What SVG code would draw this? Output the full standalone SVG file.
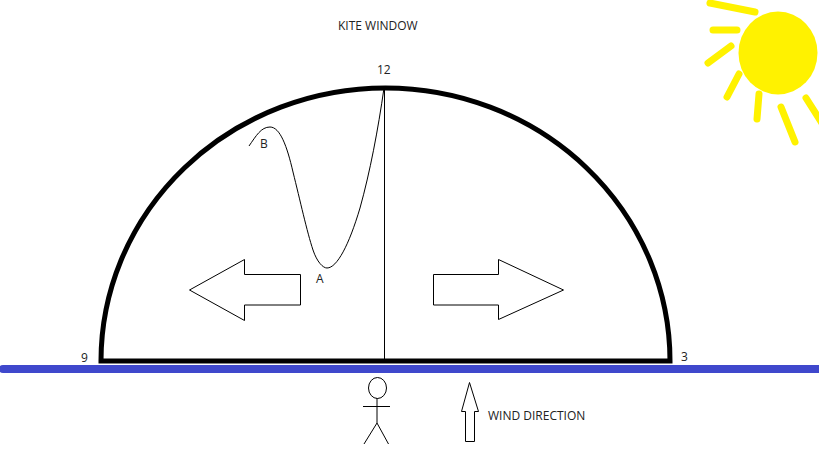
<svg xmlns="http://www.w3.org/2000/svg" width="819" height="460" viewBox="0 0 819 460">
  <style>
    text { font-family: "Open Sans", "Liberation Sans", Tahoma, sans-serif; font-size: 12px; fill: #222; }
    .thin { fill: none; stroke: #000; stroke-width: 1; }
    .ray { fill: none; stroke: #FFF200; stroke-width: 7; stroke-linecap: round; }
  </style>
  <rect width="819" height="460" fill="#fff"/>

  <g id="sun">
    <ellipse cx="778" cy="53" rx="39.500" ry="41.500" fill="#FFF200"/>
    <path class="ray" d="M710 3L755 12M713 30H737M708 63L731 46M727 97L739 74M757 119L759 94M781 107L795 142M806 98L825 128"/>
  </g>

  <g id="ground">
    <path d="M3 369H819" fill="none" stroke="#3F48CC" stroke-width="8" stroke-linecap="round"/>
  </g>

  <g id="window">
    <path d="M101 361A284.500 273 0 0 1 670 361Z" fill="none" stroke="#000" stroke-width="5"/>
    <path class="thin" d="M384.500 88V361"/>
  </g>

  <g id="flight-path">
    <path class="thin" d="M249 146C256 136 261 127 270 127C280 127 287 146 293 172C300 200 307 232 313 250C317 262 323 268 327 268C337 268 349 245 360 208C370 172 378 130 384 88"/>
  </g>

  <g id="arrow-left">
    <path class="thin" d="M189.500 290L244.500 259.500V274.500H300.500V305H244.500V320.500Z"/>
  </g>
  <g id="arrow-right">
    <path class="thin" d="M563.500 290L498.500 259.500V274.500H433.500V305H498.500V319.500Z"/>
  </g>

  <g id="person">
    <ellipse cx="377.500" cy="388" rx="9" ry="10.500" class="thin"/>
    <path class="thin" d="M377 398V423M363 406.500H390M377 423L364 444M377 423L388.500 444"/>
  </g>

  <g id="wind-arrow">
    <path class="thin" d="M469.500 382.500L461.500 411.500H465.500V441.500H474.500V411.500H478.500Z"/>
  </g>

  <g id="labels">
    <text x="338" y="30">KITE WINDOW</text>
    <text x="377" y="74">12</text>
    <text x="260" y="148">B</text>
    <text x="316" y="283">A</text>
    <text x="81" y="362">9</text>
    <text x="681" y="361">3</text>
    <text x="488" y="420">WIND DIRECTION</text>
  </g>
</svg>
